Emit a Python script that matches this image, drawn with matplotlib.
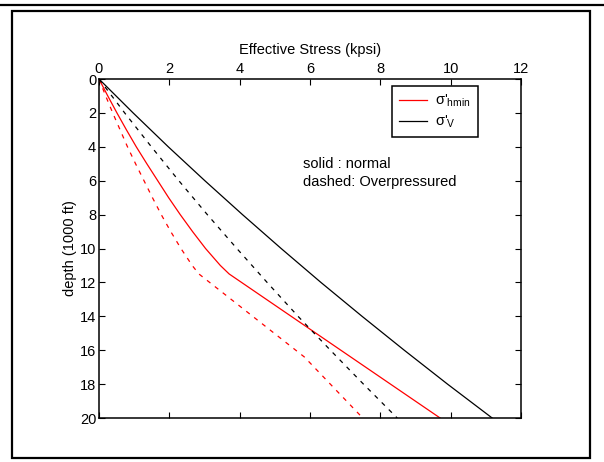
import numpy as np
import matplotlib
matplotlib.use('Agg')
import matplotlib.pyplot as plt
from matplotlib.lines import Line2D
from matplotlib.patches import Rectangle

plt.rcParams['font.family'] = ['Liberation Sans', 'DejaVu Sans']

# effective stress profiles (kpsi) vs depth (1000 ft)
depth_v = [0, 2, 4, 6, 8, 10, 12, 14, 16, 18, 20]
sv_normal = [0, 0.97, 1.97, 3.01, 4.08, 5.18, 6.31, 7.48, 8.68, 9.91, 11.18]
sv_over = [0, 0.73, 1.49, 2.27, 3.08, 3.92, 4.78, 5.66, 6.58, 7.52, 8.48]

depth_h = [0, 1, 2, 3, 4, 5, 6, 7, 8, 9, 10, 11, 11.5, 20]
shmin_normal = [0, 0.25, 0.51, 0.78, 1.06, 1.36, 1.67, 1.98, 2.31, 2.66, 3.03, 3.45, 3.70, 9.70]

depth_h_over = [0, 1, 2, 3, 4, 5, 6, 7, 8, 9, 10, 11, 11.5, 16.4, 20]
shmin_over = [0, 0.19, 0.39, 0.60, 0.81, 1.04, 1.28, 1.52, 1.77, 2.04, 2.33, 2.65, 2.84, 5.84, 7.50]

x_ticks = np.arange(0, 13, 2)
y_ticks = np.arange(0, 21, 2)

fig = plt.figure(figsize=(6.04, 4.62), dpi=100, facecolor='white')
ax = fig.add_axes([0.1639, 0.0952, 0.6987, 0.7338])

dash = (3.5, 4.5)
ax.plot(shmin_normal, depth_h, color='red', lw=0.9, label="σ'$_{\\mathregular{hmin}}$")
ax.plot(sv_normal, depth_v, color='black', lw=0.9, label="σ'$_{\\mathregular{V}}$")
ax.plot(shmin_over, depth_h_over, color='red', lw=0.9, dashes=dash)
ax.plot(sv_over, depth_v, color='black', lw=0.9, dashes=dash)

ax.set_xlim(0, 12)
ax.set_ylim(20, 0)
ax.set_xticks(x_ticks)
ax.set_yticks(y_ticks)
ax.xaxis.tick_top()
ax.xaxis.set_label_position('top')
ax.tick_params(direction='in', length=4, width=0.8, labelsize=10.5,
               top=True, bottom=True, left=True, right=True,
               labeltop=True, labelbottom=False, pad=2)
for s in ax.spines.values():
    s.set_linewidth(1.1)

ax.set_xlabel('Effective Stress (kpsi)', fontsize=10.5, labelpad=6)
ax.set_ylabel('depth (1000 ft)', fontsize=10.5, labelpad=2)

ax.text(5.8, 5.0, 'solid : normal', fontsize=10.5, va='center', ha='left')
ax.text(5.8, 6.1, 'dashed: Overpressured', fontsize=10.5, va='center', ha='left')

leg = ax.legend(loc='upper right', bbox_to_anchor=(0.897, 0.979), fancybox=False,
                framealpha=1, edgecolor='black', fontsize=10.5, handlelength=1.9,
                handletextpad=0.6, borderpad=0.45, labelspacing=0.3, borderaxespad=0)
leg.get_frame().set_linewidth(1.1)

# outer frame
fig.add_artist(Line2D([0, 1], [1 - 5 / 462, 1 - 5 / 462], color='black', lw=1.6))
fig.add_artist(Rectangle((12 / 604, 1 - 458 / 462), (590 - 12) / 604, (458 - 11) / 462,
                         fill=False, edgecolor='black', lw=1.6))

fig.savefig('out.png', dpi=100, facecolor='white')
